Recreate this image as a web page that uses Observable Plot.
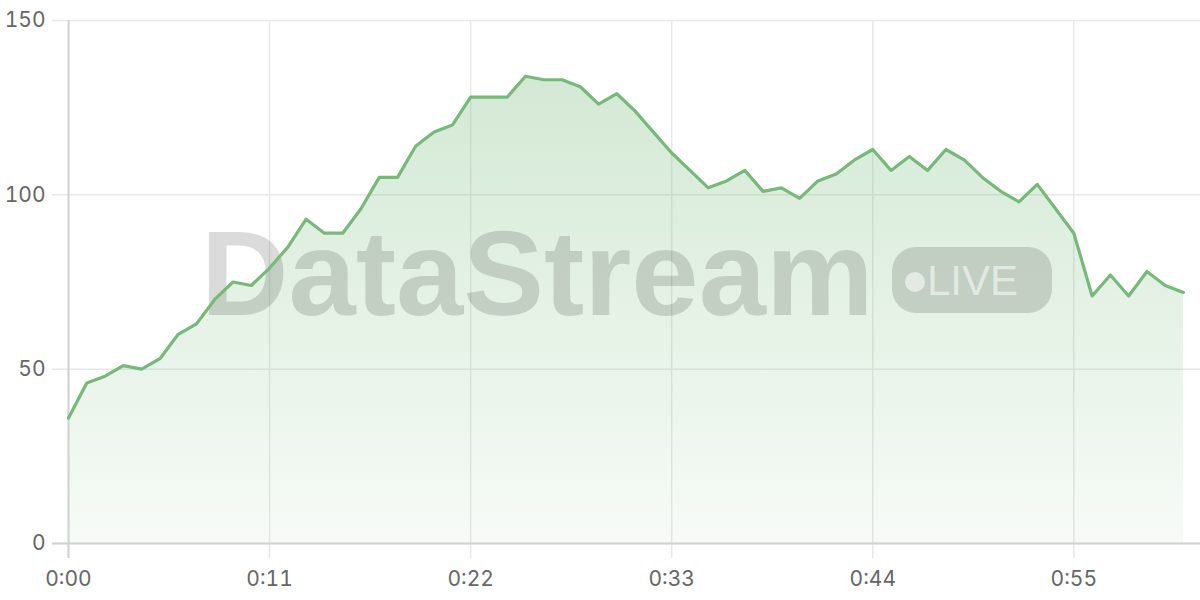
<!DOCTYPE html>
<html>
<head>
<meta charset="utf-8">
<script src="https://cdn.jsdelivr.net/npm/d3@7"></script>
<script src="https://cdn.jsdelivr.net/npm/@observablehq/plot@0.6"></script>
<style>
  html, body { margin: 0; padding: 0; background: #fff; }
  #chart { width: 1200px; height: 600px; }
</style>
</head>
<body>
<div id="chart"></div>
<script>
// Elapsed seconds (x) and values (y)
const times = [0,1,2,3,4,5,6,7,8,9,10,11,12,13,14,15,16,17,18,19,20,21,22,23,24,25,26,27,28,29,30,
  31,32,33,34,35,36,37,38,39,40,41,42,43,44,45,46,47,48,49,50,51,52,53,54,55,56,57,58,59,60,61];
const values = [36,46,48,51,50,53,60,63,70,75,74,79,85,93,89,89,96,105,105,114,118,120,128,128,128,
  134,133,133,131,126,129,124,118,112,107,102,104,107,101,102,99,104,106,110,113,107,111,107,113,110,
  105,101,98,103,96,89,71,77,71,78,74,72];
const xTicks = [0,11,22,33,44,55];
const yTicks = [0,50,100,150];
const brand = "DataStream";
const badge = "LIVE";

const data = times.map((t, i) => ({t, v: values[i]}));
const NS = "http://www.w3.org/2000/svg";
const GREEN = "#76b979";

function defsMark() {
  const g = document.createElementNS(NS, "g");
  g.innerHTML = `<defs><linearGradient id="areaGrad" x1="0" y1="0" x2="0" y2="1">
    <stop offset="0" stop-color="${GREEN}" stop-opacity="0.32"/>
    <stop offset="1" stop-color="${GREEN}" stop-opacity="0.06"/>
  </linearGradient></defs>`;
  return g;
}

function watermark(index, scales, values, dims) {
  const cx = (dims.marginLeft + dims.width - dims.marginRight) / 2;
  const cy = (dims.marginTop + dims.height - dims.marginBottom) / 2;
  const g = document.createElementNS(NS, "g");
  g.setAttribute("pointer-events", "none");
  g.setAttribute("text-anchor", "start");
  g.innerHTML = `
    <text text-anchor="start" x="${cx - 424.5}" y="${cy + 33.5}" font-family="'Liberation Sans', Arial, sans-serif" font-weight="bold"
      font-size="121" fill="#000" fill-opacity="0.14">${brand}</text>
    <rect x="${cx + 266.5}" y="${cy - 34.5}" width="160" height="66" rx="24" fill="#000" fill-opacity="0.14"/>
    <circle cx="${cx + 289.5}" cy="${cy + 0.5}" r="10" fill="#fff" fill-opacity="0.55"/>
    <text text-anchor="start" x="${cx + 301.5}" y="${cy + 13.5}" font-family="'Liberation Sans', Arial, sans-serif"
      font-size="42" fill="#fff" fill-opacity="0.55">${badge}</text>`;
  return g;
}

const chart = Plot.plot({
  width: 1200,
  height: 600,
  marginLeft: 68,
  marginRight: 17,
  marginTop: 20,
  marginBottom: 57,
  style: { fontFamily: "Inter, 'Liberation Sans', sans-serif", fontSize: "21px", color: "#666", background: "#fff" },
  x: { domain: [0, 61] },
  y: { domain: [0, 150] },
  marks: [
    defsMark,
    Plot.ruleY(yTicks, { stroke: "#e8e8e8", strokeWidth: 1.5, insetLeft: -16, insetRight: -17 }),
    Plot.ruleX(xTicks, { stroke: "#e8e8e8", strokeWidth: 1.5, insetBottom: -15 }),
    Plot.areaY(data, { x: "t", y: "v", fill: "url(#areaGrad)" }),
    watermark,
    Plot.ruleX([0], { stroke: "#d2d2d2", strokeWidth: 2, insetBottom: -15 }),
    Plot.ruleY([0], { stroke: "#d2d2d2", strokeWidth: 2, insetLeft: -16, insetRight: -17 }),
    Plot.lineY(data, { x: "t", y: "v", stroke: GREEN, strokeWidth: 3.2, strokeLinejoin: "round" }),
    Plot.axisY({ ticks: yTicks, tickSize: 0, tickPadding: 23, label: null, fontSize: 21 }),
    Plot.axisX({ ticks: xTicks, tickSize: 0, tickPadding: 28, label: null, fontSize: 21,
      tickFormat: d => `0:${String(d).padStart(2, "0")}` })
  ]
});
document.getElementById("chart").appendChild(chart);
</script>
</body>
</html>
